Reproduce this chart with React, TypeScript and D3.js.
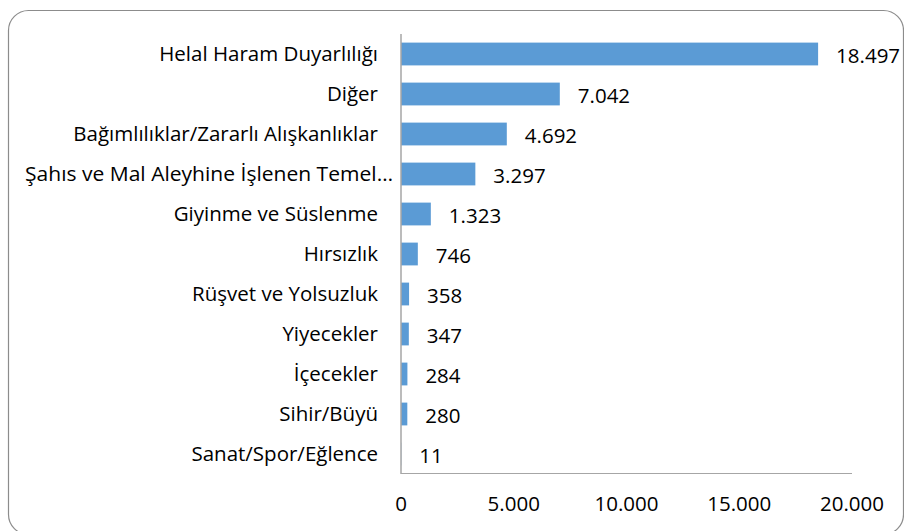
import * as d3 from "d3";
import { useEffect, useRef } from "react";

const categories = [
  "Helal Haram Duyarlılığı",
  "Diğer",
  "Bağımlılıklar/Zararlı Alışkanlıklar",
  "Şahıs ve Mal Aleyhine İşlenen Temel…",
  "Giyinme ve Süslenme",
  "Hırsızlık",
  "Rüşvet ve Yolsuzluk",
  "Yiyecekler",
  "İçecekler",
  "Sihir/Büyü",
  "Sanat/Spor/Eğlence",
];
const values = [18497, 7042, 4692, 3297, 1323, 746, 358, 347, 284, 280, 11];
const xTicks = [0, 5000, 10000, 15000, 20000];

const W = 904;
const H = 531;
const FONT = "'Open Sans', sans-serif";
const FS = 20.5;

export default function App() {
  const svgRef = useRef<SVGSVGElement | null>(null);

  useEffect(() => {
    const svg = d3.select(svgRef.current);
    svg.selectAll("*").remove();

    const trLocale = d3.formatLocale({ decimal: ",", thousands: ".", grouping: [3], currency: ["", " TL"] });
    const fmt = trLocale.format(",d");

    const x = d3.scaleLinear().domain([0, 20000]).range([401, 852]);
    const y = d3.scaleBand().domain(categories).range([34, 474]).paddingInner(0.43).paddingOuter(0.215);

    // outer rounded frame
    svg.append("rect")
      .attr("x", 8.5).attr("y", 10.5)
      .attr("width", 895).attr("height", 524)
      .attr("rx", 20).attr("ry", 20)
      .attr("fill", "#fff")
      .attr("stroke", "#8c8c8c")
      .attr("stroke-width", 1.2);

    const data = categories.map((c, i) => ({ c, v: values[i] }));

    svg.append("g")
      .selectAll("rect")
      .data(data)
      .join("rect")
      .attr("x", x(0))
      .attr("y", d => y(d.c)!)
      .attr("width", d => x(d.v) - x(0))
      .attr("height", y.bandwidth())
      .attr("fill", "#5b9bd5");

    // axes
    const axisColor = "#a6a6a6";
    svg.append("line")
      .attr("x1", x(0)).attr("x2", x(0))
      .attr("y1", 34).attr("y2", 474)
      .attr("stroke", axisColor).attr("stroke-width", 1.5);
    svg.append("line")
      .attr("x1", x(0)).attr("x2", x(20000))
      .attr("y1", 473.5).attr("y2", 473.5)
      .attr("stroke", axisColor).attr("stroke-width", 1.2);

    svg.append("g")
      .selectAll("text")
      .data(xTicks)
      .join("text")
      .attr("x", d => x(d))
      .attr("y", 511)
      .attr("text-anchor", "middle")
      .attr("font-family", FONT)
      .attr("font-size", FS)
      .attr("fill", "#000")
      .text(d => fmt(d));

    const labels = svg.append("g")
      .selectAll("text")
      .data(data)
      .join("text")
      .attr("x", 378)
      .attr("y", d => y(d.c)! + y.bandwidth() / 2)
      .attr("dy", "0.35em")
      .attr("text-anchor", "end")
      .attr("font-family", FONT)
      .attr("font-size", FS)
      .attr("fill", "#000")
      .text(d => d.c);

    // the truncated long label runs from the frame edge a bit past the others
    labels.each(function () {
      const t = this as SVGTextElement;
      if (t.getComputedTextLength() > 350) {
        d3.select(t)
          .attr("x", 25)
          .attr("text-anchor", "start")
          .attr("textLength", 368)
          .attr("lengthAdjust", "spacingAndGlyphs");
      }
    });

    svg.append("g")
      .selectAll("text")
      .data(data)
      .join("text")
      .attr("x", d => x(d.v) + 18)
      .attr("y", d => y(d.c)! + y.bandwidth() / 2 + 2)
      .attr("dy", "0.35em")
      .attr("font-family", FONT)
      .attr("font-size", FS)
      .attr("fill", "#000")
      .text(d => fmt(d.v));
  }, []);

  return (
    <svg
      ref={svgRef}
      width={W}
      height={H}
      style={{ position: "absolute", left: 0, top: 0, display: "block" }}
    />
  );
}
